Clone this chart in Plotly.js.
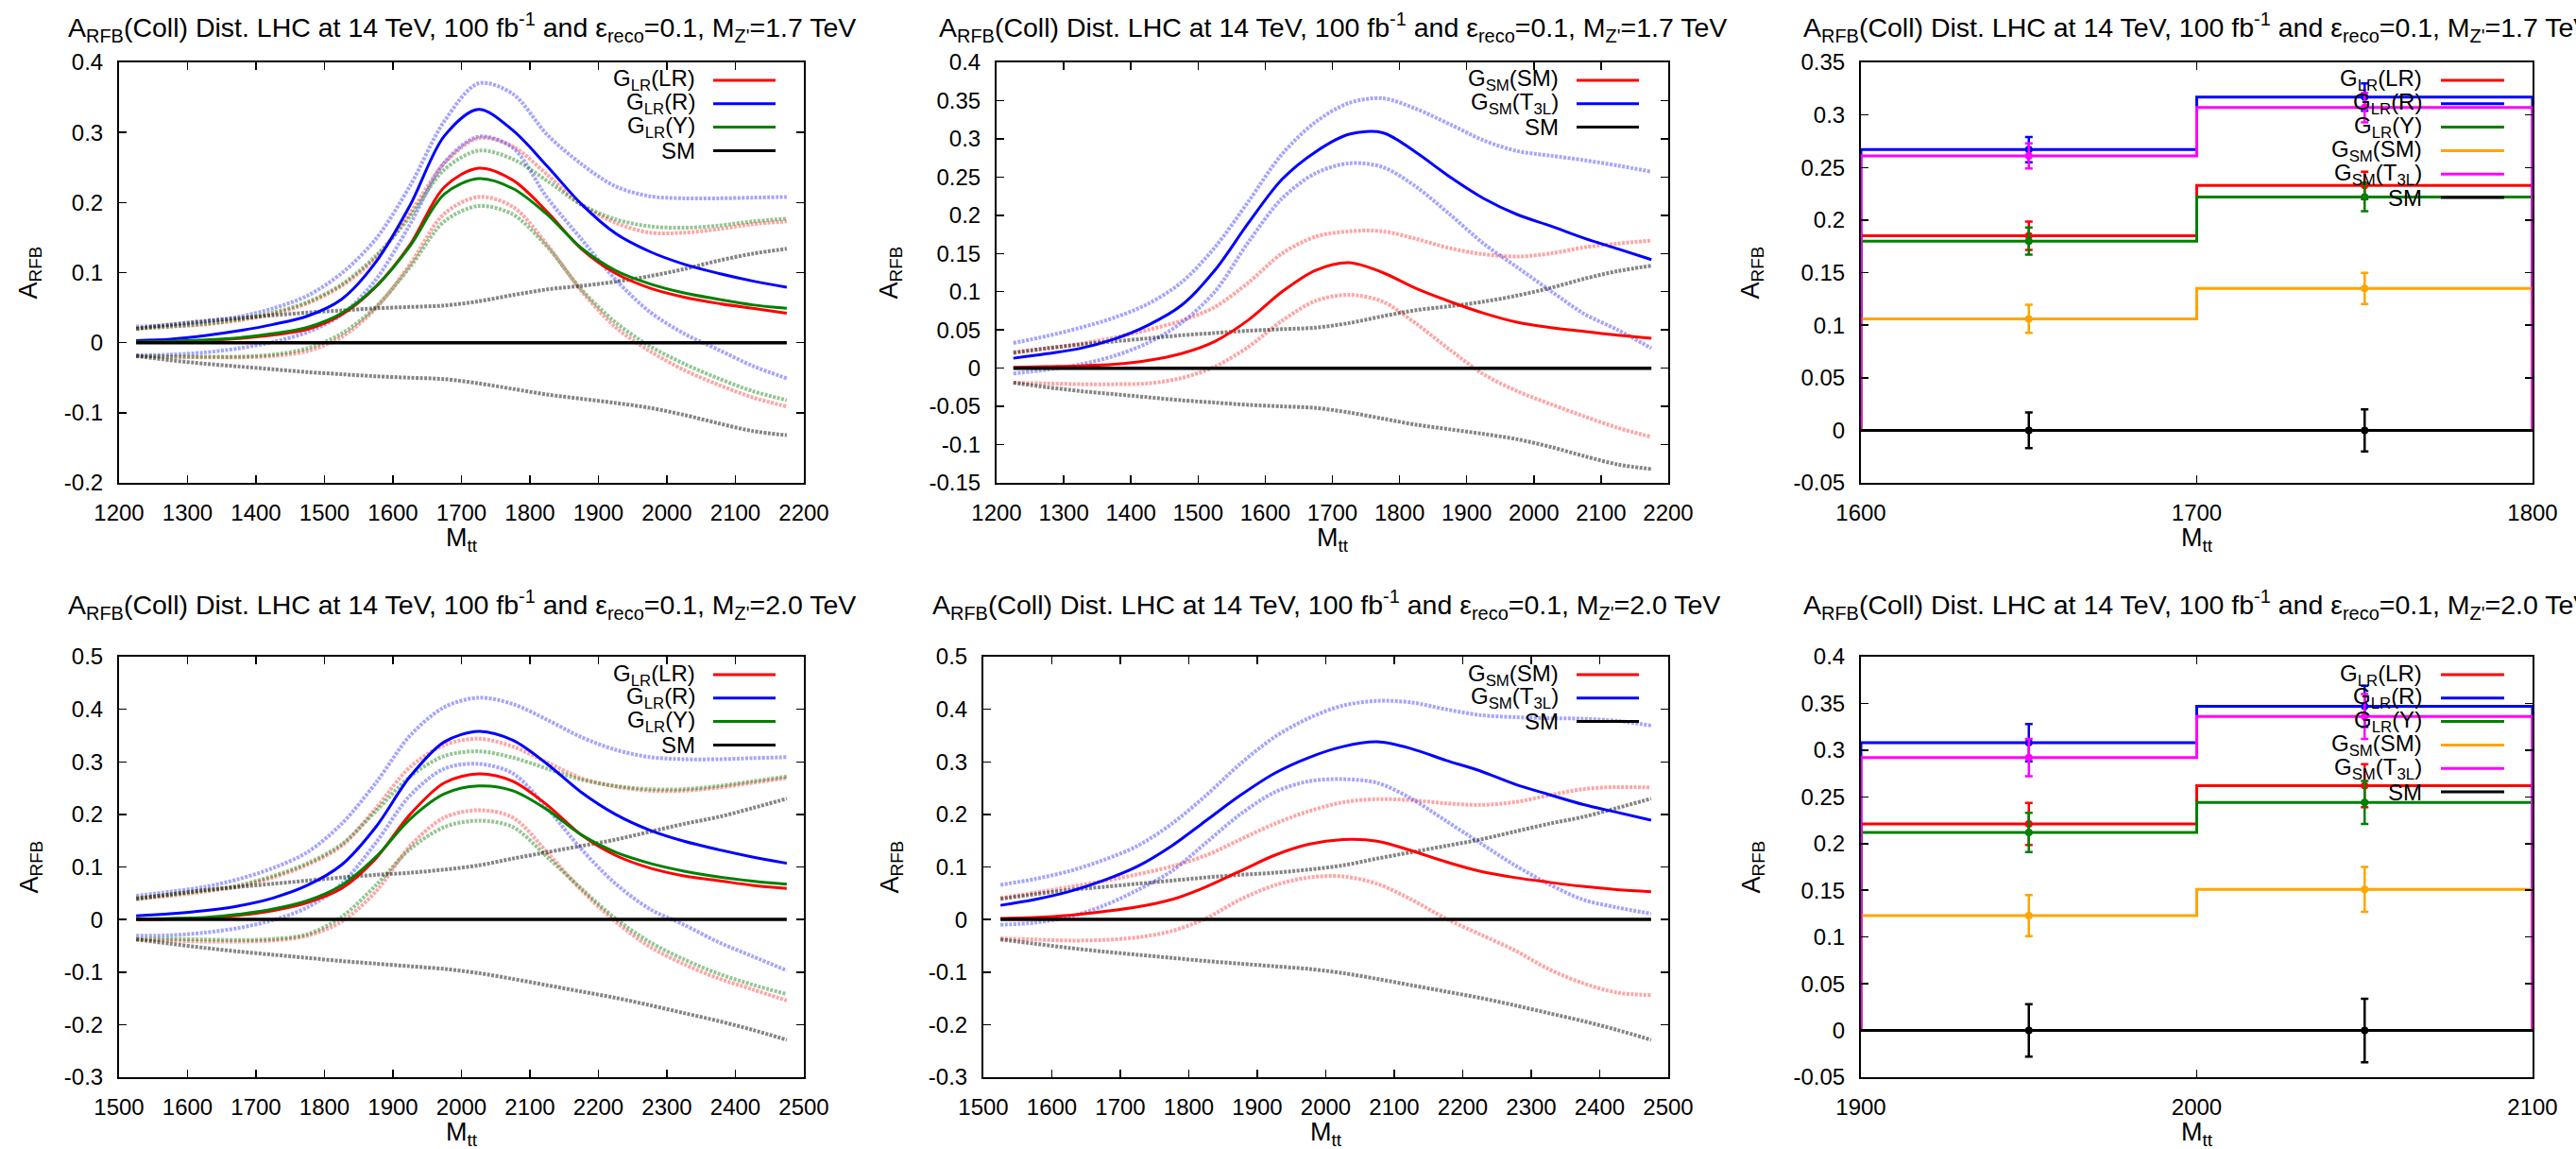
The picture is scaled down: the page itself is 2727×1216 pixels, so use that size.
<!DOCTYPE html>
<html>
<head>
<meta charset="utf-8">
<script src="https://cdn.plot.ly/plotly-3.0.1.min.js"></script>
<style>html,body{margin:0;padding:0;background:#fff;}#chart{width:2727px;height:1216px;}</style>
</head>
<body>
<div id="chart"></div>
<script>
// ---------------- DATA ----------------
// M_Z' = 1.7 TeV : M_tt sample points
const x17 = [1225,1275,1325,1375,1425,1475,1525,1575,1625,1675,1725,1775,1825,1875,1925,1975,2025,2075,2125,2175];
// G_LR models (centre, upper, lower)
const glrLR17   = [0.001,0.002,0.003,0.006,0.011,0.019,0.040,0.080,0.140,0.222,0.249,0.232,0.187,0.134,0.099,0.078,0.065,0.056,0.049,0.042];
const glrLR17Up = [0.020,0.023,0.026,0.032,0.041,0.056,0.081,0.121,0.185,0.256,0.292,0.280,0.240,0.197,0.171,0.157,0.157,0.162,0.169,0.173];
const glrLR17Dn = [-0.019,-0.020,-0.021,-0.021,-0.019,-0.012,0.008,0.049,0.112,0.184,0.208,0.194,0.140,0.074,0.022,-0.012,-0.039,-0.060,-0.078,-0.091];
const glrR17    = [0.003,0.005,0.010,0.017,0.026,0.038,0.062,0.115,0.196,0.295,0.333,0.303,0.252,0.198,0.156,0.130,0.112,0.099,0.088,0.079];
const glrR17Up  = [0.023,0.025,0.030,0.037,0.049,0.067,0.099,0.148,0.224,0.316,0.370,0.355,0.297,0.255,0.223,0.209,0.206,0.206,0.207,0.208];
const glrR17Dn  = [-0.018,-0.017,-0.014,-0.008,0.001,0.015,0.040,0.090,0.169,0.257,0.294,0.278,0.207,0.148,0.090,0.044,0.013,-0.010,-0.033,-0.051];
const glrY17    = [0.001,0.002,0.004,0.007,0.013,0.022,0.042,0.080,0.138,0.212,0.234,0.220,0.183,0.135,0.103,0.084,0.071,0.062,0.054,0.049];
const glrY17Up  = [0.020,0.023,0.027,0.033,0.043,0.058,0.083,0.124,0.180,0.247,0.274,0.262,0.231,0.197,0.176,0.166,0.164,0.167,0.173,0.177];
const glrY17Dn  = [-0.019,-0.020,-0.020,-0.020,-0.017,-0.008,0.013,0.051,0.108,0.173,0.195,0.183,0.137,0.076,0.029,-0.005,-0.030,-0.051,-0.069,-0.082];
// G_SM models
const gsmSM17    = [0.001,0.002,0.003,0.005,0.010,0.019,0.035,0.063,0.100,0.128,0.138,0.125,0.104,0.087,0.072,0.060,0.053,0.048,0.043,0.039];
const gsmSM17Up  = [0.021,0.026,0.032,0.040,0.050,0.062,0.080,0.112,0.150,0.172,0.179,0.179,0.169,0.157,0.149,0.146,0.150,0.158,0.163,0.167];
const gsmSM17Dn  = [-0.019,-0.020,-0.021,-0.021,-0.020,-0.013,0.002,0.028,0.062,0.088,0.096,0.087,0.058,0.024,-0.008,-0.030,-0.047,-0.063,-0.078,-0.090];
const gsmT3L17   = [0.013,0.019,0.026,0.038,0.056,0.082,0.128,0.190,0.247,0.283,0.306,0.308,0.282,0.250,0.222,0.201,0.186,0.170,0.156,0.142];
const gsmT3L17Up = [0.033,0.042,0.053,0.066,0.084,0.112,0.158,0.218,0.280,0.322,0.347,0.353,0.339,0.319,0.298,0.284,0.278,0.272,0.265,0.257];
const gsmT3L17Dn = [-0.007,-0.002,0.005,0.016,0.033,0.059,0.100,0.165,0.222,0.255,0.268,0.263,0.237,0.201,0.163,0.132,0.101,0.071,0.050,0.026];
// SM
const sm17   = [0,0,0,0,0,0,0,0,0,0,0,0,0,0,0,0,0,0,0,0];
const sm17Up = [0.020,0.026,0.031,0.035,0.039,0.043,0.046,0.049,0.051,0.053,0.059,0.068,0.076,0.081,0.087,0.095,0.105,0.117,0.127,0.134];
const sm17Dn = [-0.019,-0.025,-0.030,-0.034,-0.038,-0.042,-0.045,-0.048,-0.050,-0.052,-0.058,-0.066,-0.074,-0.080,-0.086,-0.093,-0.103,-0.115,-0.126,-0.132];

// M_Z' = 2.0 TeV
const x20 = [1525,1575,1625,1675,1725,1775,1825,1875,1925,1975,2025,2075,2125,2175,2225,2275,2325,2375,2425,2475];
const glrLR20   = [0.000,0.001,0.003,0.008,0.017,0.032,0.059,0.116,0.200,0.260,0.277,0.263,0.218,0.161,0.122,0.098,0.083,0.074,0.065,0.059];
const glrLR20Up = [0.039,0.045,0.053,0.063,0.080,0.104,0.140,0.212,0.290,0.332,0.344,0.329,0.299,0.269,0.253,0.245,0.245,0.251,0.260,0.269];
const glrLR20Dn = [-0.038,-0.040,-0.042,-0.042,-0.040,-0.031,-0.004,0.053,0.140,0.194,0.208,0.194,0.128,0.056,-0.004,-0.052,-0.085,-0.112,-0.133,-0.154];
const glrR20    = [0.007,0.011,0.017,0.026,0.041,0.065,0.104,0.176,0.272,0.338,0.358,0.341,0.296,0.242,0.200,0.170,0.149,0.133,0.119,0.107];
const glrR20Up  = [0.045,0.053,0.062,0.077,0.098,0.128,0.182,0.260,0.350,0.404,0.422,0.410,0.380,0.347,0.323,0.309,0.305,0.305,0.307,0.309];
const glrR20Dn  = [-0.031,-0.030,-0.025,-0.016,-0.001,0.023,0.068,0.146,0.236,0.287,0.296,0.278,0.212,0.134,0.068,0.020,-0.010,-0.043,-0.070,-0.097];
const glrY20    = [0.001,0.002,0.004,0.010,0.020,0.036,0.065,0.119,0.191,0.239,0.254,0.245,0.209,0.161,0.128,0.107,0.092,0.081,0.073,0.067];
const glrY20Up  = [0.041,0.047,0.055,0.065,0.083,0.107,0.143,0.206,0.272,0.311,0.320,0.308,0.287,0.266,0.254,0.248,0.248,0.254,0.263,0.272];
const glrY20Dn  = [-0.037,-0.037,-0.038,-0.039,-0.037,-0.028,0.005,0.065,0.134,0.176,0.188,0.176,0.119,0.059,0.002,-0.043,-0.076,-0.103,-0.124,-0.142];
const gsmSM20    = [0.002,0.004,0.008,0.015,0.024,0.038,0.062,0.092,0.122,0.143,0.152,0.149,0.131,0.110,0.092,0.080,0.071,0.063,0.057,0.053];
const gsmSM20Up  = [0.041,0.051,0.062,0.073,0.086,0.101,0.122,0.152,0.182,0.206,0.223,0.229,0.227,0.221,0.218,0.223,0.236,0.248,0.252,0.251];
const gsmSM20Dn  = [-0.036,-0.038,-0.040,-0.039,-0.034,-0.022,0.002,0.038,0.065,0.080,0.082,0.068,0.038,0.002,-0.028,-0.058,-0.094,-0.121,-0.139,-0.144];
const gsmT3L20   = [0.027,0.038,0.053,0.074,0.101,0.140,0.188,0.236,0.278,0.308,0.329,0.338,0.325,0.303,0.283,0.258,0.238,0.219,0.204,0.189];
const gsmT3L20Up = [0.066,0.077,0.092,0.113,0.140,0.182,0.236,0.296,0.347,0.383,0.407,0.416,0.413,0.400,0.389,0.385,0.383,0.382,0.378,0.369];
const gsmT3L20Dn = [-0.010,-0.006,0.005,0.026,0.056,0.092,0.146,0.200,0.242,0.263,0.267,0.260,0.230,0.188,0.146,0.104,0.068,0.038,0.023,0.011];
const sm20   = [0,0,0,0,0,0,0,0,0,0,0,0,0,0,0,0,0,0,0,0];
const sm20Up = [0.039,0.048,0.056,0.062,0.068,0.074,0.080,0.085,0.089,0.095,0.103,0.116,0.128,0.140,0.152,0.167,0.182,0.195,0.212,0.230];
const sm20Dn = [-0.038,-0.046,-0.054,-0.061,-0.067,-0.073,-0.079,-0.084,-0.089,-0.094,-0.102,-0.113,-0.125,-0.137,-0.149,-0.163,-0.178,-0.193,-0.210,-0.229];

// Binned (two bins) results
const binEdges17   = [1600,1700,1800];
const binCenters17 = [1650,1750];
const binLR17  = [0.185,0.233], binLR17Err  = [0.0135,0.013];
const binR17   = [0.267,0.317], binR17Err   = [0.012,0.013];
const binY17   = [0.180,0.222], binY17Err   = [0.013,0.0135];
const binSM17  = [0.106,0.135], binSM17Err  = [0.0134,0.0148];
const binT3L17 = [0.261,0.307], binT3L17Err = [0.012,0.014];
const binSMo17 = [0,0],         binSMo17Err = [0.017,0.020];

const binEdges20   = [1900,2000,2100];
const binCenters20 = [1950,2050];
const binLR20  = [0.221,0.262], binLR20Err  = [0.0225,0.023];
const binR20   = [0.308,0.347], binR20Err   = [0.020,0.022];
const binY20   = [0.212,0.244], binY20Err   = [0.021,0.023];
const binSM20  = [0.123,0.151], binSM20Err  = [0.022,0.024];
const binT3L20 = [0.292,0.336], binT3L20Err = [0.020,0.024];
const binSMo20 = [0,0],         binSMo20Err = [0.028,0.034];

// Tick values / labels
const xTicks17 = [1200,1300,1400,1500,1600,1700,1800,1900,2000,2100,2200];
const xTicks20 = [1500,1600,1700,1800,1900,2000,2100,2200,2300,2400,2500];
const xTicksBin17 = [1600,1700,1800];
const xTicksBin20 = [1900,2000,2100];
const yTicksA = [-0.2,-0.1,0,0.1,0.2,0.3,0.4];
const yLabelsA = ["-0.2","-0.1","0","0.1","0.2","0.3","0.4"];
const yTicksB = [-0.15,-0.1,-0.05,0,0.05,0.1,0.15,0.2,0.25,0.3,0.35,0.4];
const yLabelsB = ["-0.15","-0.1","-0.05","0","0.05","0.1","0.15","0.2","0.25","0.3","0.35","0.4"];
const yTicksC = [-0.05,0,0.05,0.1,0.15,0.2,0.25,0.3,0.35];
const yLabelsC = ["-0.05","0","0.05","0.1","0.15","0.2","0.25","0.3","0.35"];
const yTicksD = [-0.3,-0.2,-0.1,0,0.1,0.2,0.3,0.4,0.5];
const yLabelsD = ["-0.3","-0.2","-0.1","0","0.1","0.2","0.3","0.4","0.5"];
const yTicksE = [-0.05,0,0.05,0.1,0.15,0.2,0.25,0.3,0.35,0.4];
const yLabelsE = ["-0.05","0","0.05","0.1","0.15","0.2","0.25","0.3","0.35","0.4"];

const titleText17 = "A<sub>RFB</sub>(Coll) Dist. LHC at 14 TeV, 100 fb<sup>-1</sup> and ε<sub>reco</sub>=0.1, M<sub>Z'</sub>=1.7 TeV";
const titleText20 = "A<sub>RFB</sub>(Coll) Dist. LHC at 14 TeV, 100 fb<sup>-1</sup> and ε<sub>reco</sub>=0.1, M<sub>Z'</sub>=2.0 TeV";
const yTitle = "A<sub>RFB</sub>";
const xTitle = "M<sub>tt</sub>";
const legendGLR = ["G<sub>LR</sub>(LR)","G<sub>LR</sub>(R)","G<sub>LR</sub>(Y)","SM"];
const legendGSM = ["G<sub>SM</sub>(SM)","G<sub>SM</sub>(T<sub>3L</sub>)","SM"];
const legendAll = ["G<sub>LR</sub>(LR)","G<sub>LR</sub>(R)","G<sub>LR</sub>(Y)","G<sub>SM</sub>(SM)","G<sub>SM</sub>(T<sub>3L</sub>)","SM"];

// ---------------- STYLE ----------------
const W = 2727, H = 1216;
const FONT = "Liberation Sans, Arial, Helvetica, sans-serif";
const C = {red:'rgb(255,0,0)', blue:'rgb(0,0,255)', green:'rgb(0,128,0)', orange:'rgb(255,165,0)', mag:'rgb(255,0,255)', black:'rgb(0,0,0)'};
const CB = {red:'rgba(255,40,40,0.42)', blue:'rgba(40,40,255,0.42)', green:'rgba(0,120,0,0.42)', black:'rgba(0,0,0,0.48)'};
const px = v => v / W;
const py = v => 1 - v / H;

// panel frames in pixels [left, right, top, bottom]
const P = {
  1: [126, 851, 66, 511],
  2: [1055, 1766, 66, 511],
  3: [1970, 2681, 66, 511],
  4: [126, 851, 695, 1140],
  5: [1041, 1766, 695, 1140],
  6: [1970, 2681, 695, 1140]
};

const traces = [];
function sfx(i){ return i === 1 ? '' : String(i); }
function band(i, x, y, col){
  traces.push({type:'scatter', mode:'lines', x:x, y:y, xaxis:'x'+sfx(i), yaxis:'y'+sfx(i),
    line:{color:col, width:4, dash:'3px,1.5px', shape:'spline', smoothing:0.9}, hoverinfo:'skip'});
}
function solid(i, x, y, col, w){
  traces.push({type:'scatter', mode:'lines', x:x, y:y, xaxis:'x'+sfx(i), yaxis:'y'+sfx(i),
    line:{color:col, width:w||3, shape:'spline', smoothing:0.9}, hoverinfo:'skip'});
}
function steps(i, edges, vals, errs, centers, col){
  const xs = [edges[0], edges[0]], ys = [0, vals[0]];
  for (let k = 0; k < vals.length; k++){
    xs.push(edges[k+1]); ys.push(vals[k]);
    xs.push(edges[k+1]); ys.push(k+1 < vals.length ? vals[k+1] : 0);
  }
  traces.push({type:'scatter', mode:'lines', x:xs, y:ys, xaxis:'x'+sfx(i), yaxis:'y'+sfx(i),
    line:{color:col, width:3}, hoverinfo:'skip'});
  traces.push({type:'scatter', mode:'markers', x:centers, y:vals, xaxis:'x'+sfx(i), yaxis:'y'+sfx(i),
    marker:{color:col, size:8}, error_y:{type:'data', array:errs, visible:true, color:col, thickness:2.5, width:4},
    hoverinfo:'skip'});
}

// Panel 1: G_LR, M_Z'=1.7
band(1, x17, glrLR17Up, CB.red);  band(1, x17, glrLR17Dn, CB.red);
band(1, x17, glrR17Up, CB.blue);  band(1, x17, glrR17Dn, CB.blue);
band(1, x17, glrY17Up, CB.green); band(1, x17, glrY17Dn, CB.green);
band(1, x17, sm17Up, CB.black);   band(1, x17, sm17Dn, CB.black);
solid(1, x17, glrLR17, C.red); solid(1, x17, glrR17, C.blue); solid(1, x17, glrY17, C.green);
solid(1, x17, sm17, C.black, 3.5);
// Panel 2: G_SM, M_Z'=1.7
band(2, x17, gsmSM17Up, CB.red);   band(2, x17, gsmSM17Dn, CB.red);
band(2, x17, gsmT3L17Up, CB.blue); band(2, x17, gsmT3L17Dn, CB.blue);
band(2, x17, sm17Up, CB.black);    band(2, x17, sm17Dn, CB.black);
solid(2, x17, gsmSM17, C.red); solid(2, x17, gsmT3L17, C.blue);
solid(2, x17, sm17, C.black, 3.5);
// Panel 3: bins, M_Z'=1.7
steps(3, binEdges17, binLR17, binLR17Err, binCenters17, C.red);
steps(3, binEdges17, binR17, binR17Err, binCenters17, C.blue);
steps(3, binEdges17, binY17, binY17Err, binCenters17, C.green);
steps(3, binEdges17, binSM17, binSM17Err, binCenters17, C.orange);
steps(3, binEdges17, binT3L17, binT3L17Err, binCenters17, C.mag);
steps(3, binEdges17, binSMo17, binSMo17Err, binCenters17, C.black);
// Panel 4: G_LR, M_Z'=2.0
band(4, x20, glrLR20Up, CB.red);  band(4, x20, glrLR20Dn, CB.red);
band(4, x20, glrR20Up, CB.blue);  band(4, x20, glrR20Dn, CB.blue);
band(4, x20, glrY20Up, CB.green); band(4, x20, glrY20Dn, CB.green);
band(4, x20, sm20Up, CB.black);   band(4, x20, sm20Dn, CB.black);
solid(4, x20, glrLR20, C.red); solid(4, x20, glrR20, C.blue); solid(4, x20, glrY20, C.green);
solid(4, x20, sm20, C.black, 3.5);
// Panel 5: G_SM, M_Z'=2.0
band(5, x20, gsmSM20Up, CB.red);   band(5, x20, gsmSM20Dn, CB.red);
band(5, x20, gsmT3L20Up, CB.blue); band(5, x20, gsmT3L20Dn, CB.blue);
band(5, x20, sm20Up, CB.black);    band(5, x20, sm20Dn, CB.black);
solid(5, x20, gsmSM20, C.red); solid(5, x20, gsmT3L20, C.blue);
solid(5, x20, sm20, C.black, 3.5);
// Panel 6: bins, M_Z'=2.0
steps(6, binEdges20, binLR20, binLR20Err, binCenters20, C.red);
steps(6, binEdges20, binR20, binR20Err, binCenters20, C.blue);
steps(6, binEdges20, binY20, binY20Err, binCenters20, C.green);
steps(6, binEdges20, binSM20, binSM20Err, binCenters20, C.orange);
steps(6, binEdges20, binT3L20, binT3L20Err, binCenters20, C.mag);
steps(6, binEdges20, binSMo20, binSMo20Err, binCenters20, C.black);

// ---------------- LAYOUT ----------------
const layout = {
  width: W, height: H, margin:{l:0,r:0,t:0,b:0}, showlegend:false,
  paper_bgcolor:'#fff', plot_bgcolor:'#fff',
  font:{family:FONT, size:24, color:'#000'},
  annotations:[], shapes:[]
};
function axes(i, xr, yr, xt, yt, ytl){
  const f = P[i];
  const common = {showline:true, linecolor:'#000', linewidth:2, mirror:'allticks', ticks:'inside',
    ticklen:8, tickwidth:1.5, tickcolor:'#000', showgrid:false, zeroline:false, fixedrange:true,
    tickfont:{family:FONT, size:24, color:'#000'}};
  layout['xaxis'+sfx(i)] = Object.assign({}, common, {domain:[px(f[0]), px(f[1])], range:xr,
    anchor:'y'+sfx(i), tickmode:'array', tickvals:xt, ticktext:xt.map(String), ticklabelstandoff:9});
  layout['yaxis'+sfx(i)] = Object.assign({}, common, {domain:[py(f[3]), py(f[2])], range:yr,
    anchor:'x'+sfx(i), tickmode:'array', tickvals:yt, ticktext:ytl, ticklabelstandoff:10});
}
axes(1, [1200,2200], [-0.2,0.4], xTicks17, yTicksA, yLabelsA);
axes(2, [1200,2200], [-0.15,0.4], xTicks17, yTicksB, yLabelsB);
axes(3, [1600,1800], [-0.05,0.35], xTicksBin17, yTicksC, yLabelsC);
axes(4, [1500,2500], [-0.3,0.5], xTicks20, yTicksD, yLabelsD);
axes(5, [1500,2500], [-0.3,0.5], xTicks20, yTicksD, yLabelsD);
axes(6, [1900,2100], [-0.05,0.4], xTicksBin20, yTicksE, yLabelsE);

function ann(text, x, y, opts){
  layout.annotations.push(Object.assign({text:text, x:x, y:y, xref:'paper', yref:'paper',
    showarrow:false, font:{family:FONT, size:24, color:'#000'}}, opts||{}));
}
// titles and axis titles
const yTitleX = {1:32, 2:943, 3:1855, 4:32, 5:943, 6:1855};
for (let i = 1; i <= 6; i++){
  const f = P[i];
  const top = i <= 3;
  ann(top ? titleText17 : titleText20, px((f[0]+f[1])/2), py(top ? 29 : 640), {xanchor:'center', yanchor:'middle', font:{family:FONT, size:28.5, color:'#000'}});
  ann(yTitle, px(yTitleX[i]), py((f[2]+f[3])/2), {xanchor:'center', yanchor:'middle', textangle:-90, font:{family:FONT, size:27, color:'#000'}});
  ann(xTitle, px((f[0]+f[1])/2), py(top ? 571 : 1200), {xanchor:'center', yanchor:'middle', font:{family:FONT, size:27, color:'#000'}});
}
// legends (gnuplot style: right-aligned text, sample line to the right)
function legend(i, labels, cols, textRight, lineL, lineR){
  const f = P[i];
  labels.forEach((lab, k) => {
    const yy = f[2] + 19 + k * 24.8;
    ann(lab, px(textRight), py(yy), {xanchor:'right', yanchor:'middle', font:{family:FONT, size:24, color:'#000'}});
    layout.shapes.push({type:'line', xref:'paper', yref:'paper', x0:px(lineL), x1:px(lineR), y0:py(yy), y1:py(yy),
      line:{color:cols[k], width:3}});
  });
}
legend(1, legendGLR, [C.red, C.blue, C.green, C.black], 738, 755, 821);
legend(4, legendGLR, [C.red, C.blue, C.green, C.black], 738, 755, 821);
legend(2, legendGSM, [C.red, C.blue, C.black], 1652, 1669, 1735);
legend(5, legendGSM, [C.red, C.blue, C.black], 1652, 1669, 1735);
legend(3, legendAll, [C.red, C.blue, C.green, C.orange, C.mag, C.black], 2566, 2584, 2651);
legend(6, legendAll, [C.red, C.blue, C.green, C.orange, C.mag, C.black], 2566, 2584, 2651);

Plotly.newPlot('chart', traces, layout, {staticPlot:true, displayModeBar:false});
</script>
</body>
</html>
